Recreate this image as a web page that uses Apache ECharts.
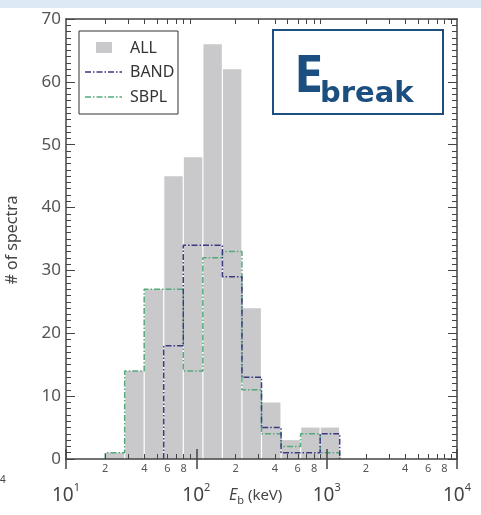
<!DOCTYPE html>
<html><head><meta charset="utf-8">
<script src="https://cdn.jsdelivr.net/npm/echarts@6/dist/echarts.min.js"></script>
<style>html,body{margin:0;padding:0;background:#fff;}#c{width:481px;height:515px;}</style>
</head><body><div id="c"></div>
<script>
// ---- data ----
const binEdges = [20.0, 28.2, 39.8, 56.2, 79.4, 112.2, 158.5, 223.9, 316.2, 446.7, 631.0, 891.3, 1258.9];
const allCounts  = [1, 14, 27, 45, 48, 66, 62, 24, 9, 3, 5, 5];
const bandCounts = [0, 0, 0, 18, 34, 34, 29, 13, 5, 1, 1, 4];
const sbplCounts = [1, 14, 27, 27, 14, 32, 33, 11, 4, 2, 4, 1];
const majorTicks = [10, 100, 1000, 10000];
const minorTicks = [20,30,40,50,60,70,80,90,200,300,400,500,600,700,800,900,2000,3000,4000,5000,6000,7000,8000,9000];
const minorLabels = [20,40,60,80,200,400,600,800,2000,4000,6000,8000];
const seriesNames = ['ALL', 'BAND', 'SBPL'];

const FONT = 'Noto Sans';
const AXIS_COLOR = '#444';
const BAND_COLOR = '#3a3a80';
const SBPL_COLOR = '#55a97b';
const BAR_COLOR = '#c9c9cc';
const DASH = [6, 2, 1.5, 2];

function stepPoints(counts) {
  const start = counts.findIndex(v => v > 0);
  const pts = [[binEdges[start], 0]];
  for (let i = start; i < counts.length; i++) {
    pts.push([binEdges[i], counts[i]]);
    pts.push([binEdges[i + 1], counts[i]]);
  }
  pts.push([binEdges[counts.length], 0]);
  return pts;
}

const chart = echarts.init(document.getElementById('c'), null, {renderer: 'canvas'});
const gridRect = {left: 66, top: 19, width: 391, height: 440};

const logX = (extra) => Object.assign({type: 'log', logBase: 10, min: 10, max: 10000, z: 10,
  splitLine: {show: false}, axisLine: {show: false}, axisLabel: {show: false}}, extra);
const linY = (extra) => Object.assign({type: 'value', min: 0, max: 70, interval: 10, z: 10,
  splitLine: {show: false}, axisLine: {show: false}, axisLabel: {show: false}, axisTick: {show: false}}, extra);
const frameLine = {show: true, onZero: false, lineStyle: {color: AXIS_COLOR, width: 1.5}};
const tick = (len, w, extra) => Object.assign({show: true, inside: true, length: len, lineStyle: {color: AXIS_COLOR, width: w}}, extra);

const option = {
  animation: false,
  textStyle: {fontFamily: FONT},
  grid: [Object.assign({}, gridRect), Object.assign({}, gridRect), Object.assign({}, gridRect)],
  xAxis: [
    // grid 0: frame lines + minor labels
    logX({gridIndex: 0, position: 'bottom', axisLine: frameLine, axisTick: {show: false},
      axisLabel: {show: true, customValues: minorLabels, margin: 4, fontSize: 11, color: '#555', fontFamily: FONT,
        formatter: v => String(Math.round(v / Math.pow(10, Math.floor(Math.log10(v) + 1e-9))))}}),
    logX({gridIndex: 0, position: 'top', axisLine: frameLine, axisTick: {show: false}}),
    // grid 1: major ticks + decade labels
    logX({gridIndex: 1, position: 'bottom', axisTick: tick(10, 1.5, {customValues: majorTicks}),
      axisLabel: {show: true, customValues: majorTicks, margin: 23,
        formatter: v => '{b|10}{s|' + Math.round(Math.log10(v)) + '}',
        rich: {
          b: {fontSize: 19, lineHeight: 19, color: '#444', fontFamily: FONT, padding: [8, 0, 0, 0]},
          s: {fontSize: 11, lineHeight: 11, color: '#444', fontFamily: FONT, verticalAlign: 'top'}
        }}}),
    logX({gridIndex: 1, position: 'top', axisTick: tick(10, 1.5, {customValues: majorTicks})}),
    // grid 2: minor ticks
    logX({gridIndex: 2, position: 'bottom', axisTick: tick(5, 1, {customValues: minorTicks})}),
    logX({gridIndex: 2, position: 'top', axisTick: tick(5, 1, {customValues: minorTicks})})
  ],
  yAxis: [
    linY({gridIndex: 0, position: 'left', axisLine: frameLine,
      axisLabel: {show: true, fontSize: 17, color: '#555', margin: 5, fontFamily: FONT}}),
    linY({gridIndex: 0, position: 'right', axisLine: frameLine}),
    linY({gridIndex: 1, position: 'left', axisTick: tick(9, 1),
      minorTick: {show: true, splitNumber: 10, length: 5, lineStyle: {color: AXIS_COLOR, width: 1}}}),
    linY({gridIndex: 1, position: 'right', axisTick: tick(9, 1),
      minorTick: {show: true, splitNumber: 10, length: 5, lineStyle: {color: AXIS_COLOR, width: 1}}}),
    linY({gridIndex: 2, show: false})
  ],
  series: [
    {name: seriesNames[0], type: 'custom', xAxisIndex: 0, yAxisIndex: 0, z: 2,
      data: allCounts.map((v, i) => [binEdges[i], binEdges[i + 1], v]),
      encode: {x: [0, 1], y: 2},
      renderItem: (params, api) => {
        const p0 = api.coord([api.value(0), api.value(2)]);
        const p1 = api.coord([api.value(1), 0]);
        return {type: 'rect',
          shape: {x: p0[0] + 0.6, y: p0[1], width: p1[0] - p0[0] - 1.2, height: p1[1] - p0[1]},
          style: {fill: BAR_COLOR}};
      }},
    {name: seriesNames[2], type: 'line', xAxisIndex: 0, yAxisIndex: 0, z: 3,
      data: stepPoints(sbplCounts), showSymbol: false, symbol: 'none',
      lineStyle: {color: SBPL_COLOR, width: 1.5, type: DASH}},
    {name: seriesNames[1], type: 'line', xAxisIndex: 0, yAxisIndex: 0, z: 4,
      data: stepPoints(bandCounts), showSymbol: false, symbol: 'none',
      lineStyle: {color: BAND_COLOR, width: 1.5, type: DASH}}
  ],
  graphic: [
    {type: 'rect', left: 0, top: 0, z: 0, shape: {width: 481, height: 8}, style: {fill: '#dde9f5'}},
    {type: 'text', x: 12, y: 240, rotation: Math.PI / 2, z: 10,
      style: {text: '# of spectra', font: '16px "Noto Sans"', fill: '#444', align: 'center', verticalAlign: 'middle'}},
    {type: 'text', x: 0, y: 480, z: 10,
      style: {text: '4', font: '10px "Noto Sans"', fill: '#444', align: 'left', verticalAlign: 'middle'}},
    {type: 'text', x: 229, y: 490, z: 10,
      style: {text: '{e|E}{sb|b}{t| (keV)}', fill: '#444', align: 'left', verticalAlign: 'top',
        rich: {
          e: {fontSize: 16, fontStyle: 'italic', lineHeight: 16, padding: [0, 0, 5, 0], fill: '#444', fontFamily: FONT},
          sb: {fontSize: 11, lineHeight: 11, verticalAlign: 'bottom', fill: '#444', fontFamily: FONT},
          t: {fontSize: 15, lineHeight: 16, padding: [0, 0, 5, 0], fill: '#444', fontFamily: FONT}
        }}},
    // legend
    {type: 'group', z: 20, children: [
      {type: 'rect', shape: {x: 79, y: 31, width: 99, height: 83}, style: {fill: '#fff', stroke: '#333', lineWidth: 1}},
      {type: 'rect', shape: {x: 96, y: 42, width: 16, height: 11}, style: {fill: BAR_COLOR}},
      {type: 'text', x: 130, y: 48, style: {text: seriesNames[0], font: '16px "Noto Sans"', fill: '#333', verticalAlign: 'middle'}},
      {type: 'line', shape: {x1: 85, y1: 72, x2: 122, y2: 72}, style: {stroke: BAND_COLOR, lineWidth: 1.5, lineDash: DASH}},
      {type: 'text', x: 130, y: 72, style: {text: seriesNames[1], font: '16px "Noto Sans"', fill: '#333', verticalAlign: 'middle'}},
      {type: 'line', shape: {x1: 85, y1: 97, x2: 122, y2: 97}, style: {stroke: SBPL_COLOR, lineWidth: 1.5, lineDash: DASH}},
      {type: 'text', x: 130, y: 97, style: {text: seriesNames[2], font: '16px "Noto Sans"', fill: '#333', verticalAlign: 'middle'}}
    ]},
    // E_break box
    {type: 'group', z: 20, children: [
      {type: 'rect', shape: {x: 273, y: 30, width: 170, height: 84}, style: {fill: '#fff', stroke: '#1b4f7f', lineWidth: 2}},
      {type: 'text', x: 294, y: 77, style: {text: 'E', font: 'bold 52px "Noto Sans"', fill: '#1b4f7f', verticalAlign: 'middle'}},
      {type: 'text', x: 320, y: 94, style: {text: 'break', font: 'bold 29px "DejaVu Sans"', fill: '#1b4f7f', verticalAlign: 'middle'}}
    ]}
  ]
};
chart.setOption(option);
</script>
</body></html>
